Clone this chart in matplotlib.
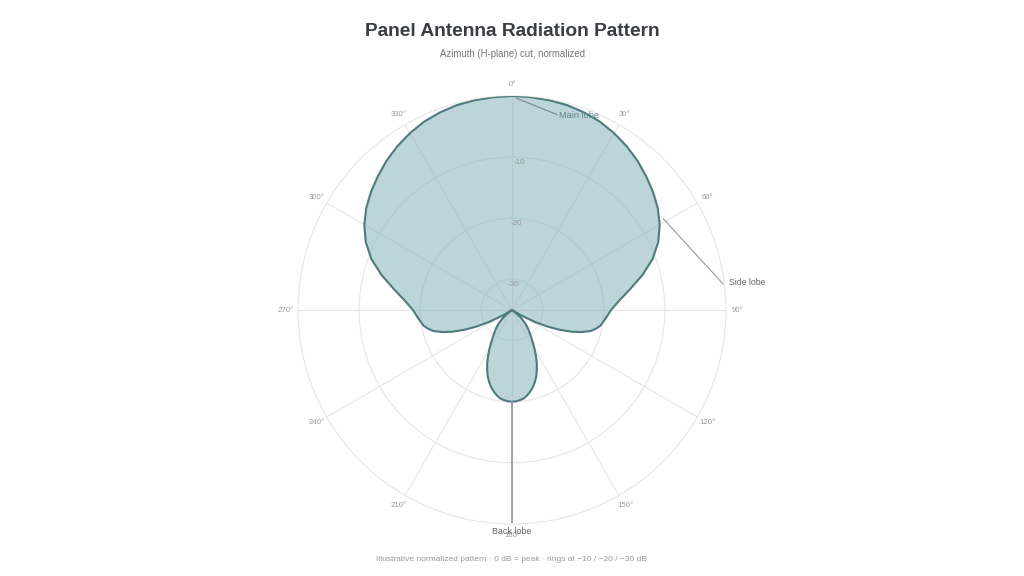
import numpy as np
import matplotlib
matplotlib.use('Agg')
import matplotlib.pyplot as plt

plt.rcParams['font.family'] = ['Liberation Sans', 'DejaVu Sans']

# normalized gain (dB) for 0..180 deg (pattern is symmetric left/right)
half_angles = [0, 5, 10, 15, 20, 25, 30, 35, 40, 45, 50, 55, 60, 65, 70, 75, 80,
               85, 90, 95, 100, 102.5, 105, 107.5, 110, 112.5, 115, 117.5, 120,
               122.5, 125, 127.5, 130, 132.5, 135, 137.5, 140, 142.5, 145, 147.5,
               150, 152.5, 155, 157.5, 160, 162.5, 165, 167.5, 170, 172.5, 175,
               177.5, 180]
half_gain = [0.0, -0.05, -0.15, -0.3, -0.6, -1.0, -1.6, -2.3, -3.1, -4.0, -4.9,
             -5.9, -7.1, -8.6, -10.5, -12.9, -15.4, -17.4, -18.8, -19.6, -20.3,
             -20.9, -21.7, -23.0, -24.6, -26.5, -28.6, -30.8, -33.0, -34.5, -35.0,
             -34.3, -33.5, -32.7, -32.0, -31.4, -30.8, -30.2, -29.5, -28.6, -27.6,
             -26.5, -25.4, -24.4, -23.4, -22.6, -21.9, -21.3, -20.8, -20.4, -20.2,
             -20.05, -20.0]

half_angles = np.array(half_angles)
angles = np.concatenate([half_angles, 360 - half_angles[::-1][1:]])
gain = np.concatenate([half_gain, half_gain[::-1][1:]])

ring_levels = [-30, -20, -10]
angle_ticks = np.arange(0, 360, 30)
r_min, r_max = -35, 0

line_col = '#4f7b7d'
fill_col = '#8fb9c1'
grid_col = '#e6e6e6'

fig = plt.figure(figsize=(10.24, 5.76), dpi=100)
ax = fig.add_axes([0.291, 0.0903, 0.418, 0.743], projection='polar')
ax.set_theta_zero_location('N')
ax.set_theta_direction(-1)
ax.set_ylim(r_min, r_max)

theta = np.deg2rad(angles)
ax.fill(theta, gain, color=fill_col, alpha=0.6, lw=0, zorder=2)
ax.plot(theta, gain, color=line_col, lw=1.5, zorder=3)

ax.set_xticks(np.deg2rad(angle_ticks))
ax.set_xticklabels([])
ax.set_yticks(ring_levels)
ax.set_yticklabels([])
ax.set_axisbelow(True)
ax.grid(True, color=grid_col, lw=0.8)
ax.spines['polar'].set_color(grid_col)
ax.spines['polar'].set_linewidth(0.8)

for a in angle_ticks:
    ax.text(np.deg2rad(a), r_max + 1.95, f'{a}°', ha='center', va='center',
            fontsize=5.6, color='#999999', clip_on=False)

for lv in ring_levels:
    ax.text(np.deg2rad(2.7), lv - 0.9, f'{lv}', ha='center', va='center',
            fontsize=5.8, color='#999999', zorder=4)

# callouts
ax.plot(np.deg2rad([1.4, 13]), [-0.4, -2.2], color='#7a8a8c', lw=0.8, zorder=5)
ax.text(np.deg2rad(13.6), -2.3, 'Main lobe', fontsize=6.6, color='#5f8589',
        ha='left', va='center', zorder=5)

ax.plot(np.deg2rad([58.9, 83]), [-6.1, -0.2], color='#999999', lw=0.8,
        zorder=5, clip_on=False)
ax.text(np.deg2rad(82.9), 0.75, 'Side lobe', fontsize=6.3, color='#666666',
        ha='left', va='center', zorder=5, clip_on=False)

ax.plot([np.pi, np.pi], [-20.0, -0.3], color='#999999', lw=1.3, zorder=5)
ax.text(np.pi, 1.3, 'Back lobe', ha='center', va='center', fontsize=6.4,
        color='#666666', clip_on=False, zorder=5)

fig.text(0.5, 0.945, 'Panel Antenna Radiation Pattern', ha='center', va='center',
         fontsize=13.8, fontweight='bold', color='#3a3d41')
fig.text(0.5, 0.907, 'Azimuth (H-plane) cut, normalized', ha='center', va='center',
         fontsize=6.9, color='#777777')
fig.text(0.5, 0.029, 'Illustrative normalized pattern · 0 dB = peak · rings at −10 / −20 / −30 dB',
         ha='center', va='center', fontsize=6.0, color='#999999')

fig.savefig('out.png', dpi=100, facecolor='white')
